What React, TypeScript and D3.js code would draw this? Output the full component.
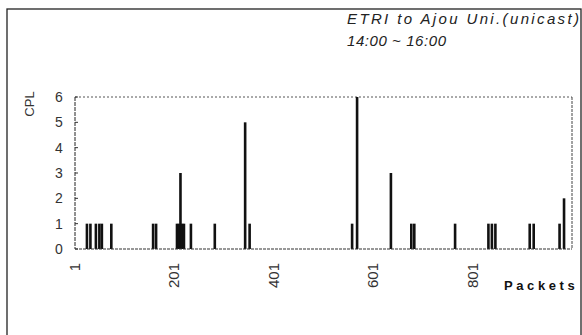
import React, { useEffect, useRef } from 'react';
import * as d3 from 'd3';

// packet index and CPL value
const packets = [25, 32, 43, 50, 55, 74, 158, 164, 206, 210, 213, 216, 220, 234, 282, 343, 352, 558, 568, 636, 677, 683, 765, 832, 839, 846, 915, 923, 975, 984];
const cpl = [1, 1, 1, 1, 1, 1, 1, 1, 1, 1, 3, 1, 1, 1, 1, 5, 1, 1, 6, 3, 1, 1, 1, 1, 1, 1, 1, 1, 1, 2];
const xTicks = [1, 201, 401, 601, 801];
const yTicks = [0, 1, 2, 3, 4, 5, 6];
const titleLines = ['ETRI to Ajou Uni.(unicast)', '14:00 ~ 16:00'];

const W = 582;
const H = 335;

const App: React.FC = () => {
    const svgRef = useRef<SVGSVGElement | null>(null);

    useEffect(() => {
        const svg = d3.select(svgRef.current);
        svg.selectAll('*').remove();

        const x = d3.scaleLinear().domain([1, 1000]).range([75, 572]);
        const y = d3.scaleLinear().domain([0, 6]).range([249, 97]);
        const font = 'Liberation Sans, Arial, sans-serif';

        // outer frame
        svg.append('rect')
            .attr('x', 7).attr('y', 9)
            .attr('width', 574).attr('height', 340)
            .attr('fill', 'none')
            .attr('stroke', '#222')
            .attr('stroke-width', 1.3);

        // title
        svg.append('text')
            .attr('x', 347).attr('y', 24)
            .attr('font-family', font).attr('font-style', 'italic')
            .attr('font-size', 15).attr('fill', '#222')
            .attr('textLength', 232).attr('lengthAdjust', 'spacing')
            .text(titleLines[0]);
        svg.append('text')
            .attr('x', 347).attr('y', 46)
            .attr('font-family', font).attr('font-style', 'italic')
            .attr('font-size', 15).attr('fill', '#222')
            .attr('textLength', 99).attr('lengthAdjust', 'spacing')
            .text(titleLines[1]);

        // plot frame (dotted like the scan)
        const [x0, x1] = x.range();
        svg.append('line').attr('x1', x0).attr('x2', x1).attr('y1', y(6)).attr('y2', y(6))
            .attr('stroke', '#555').attr('stroke-dasharray', '2,2');
        svg.append('line').attr('x1', x1).attr('x2', x1).attr('y1', y(6)).attr('y2', y(0))
            .attr('stroke', '#444').attr('stroke-dasharray', '3,1');
        svg.append('line').attr('x1', x0).attr('x2', x0).attr('y1', y(6)).attr('y2', y(0))
            .attr('stroke', '#222').attr('stroke-dasharray', '4,1');

        // y ticks + labels
        const yAxis = svg.append('g');
        yTicks.forEach(t => {
            yAxis.append('line')
                .attr('x1', x0).attr('x2', x0 + 3)
                .attr('y1', y(t)).attr('y2', y(t))
                .attr('stroke', '#333');
            yAxis.append('text')
                .attr('x', 59).attr('y', y(t))
                .attr('dy', '0.36em')
                .attr('text-anchor', 'middle')
                .attr('font-family', font).attr('font-size', 14)
                .attr('fill', '#333')
                .text(t);
        });
        svg.append('text')
            .attr('transform', 'translate(34,104) rotate(-90)')
            .attr('text-anchor', 'middle')
            .attr('font-family', font).attr('font-size', 13)
            .attr('fill', '#333')
            .text('CPL');

        // x tick labels, rotated
        xTicks.forEach(t => {
            svg.append('text')
                .attr('transform', `translate(${x(t) + 5},263) rotate(-90)`)
                .attr('text-anchor', 'end')
                .attr('font-family', font).attr('font-size', 15)
                .attr('fill', '#333')
                .text(t);
        });
        svg.append('text')
            .attr('x', 504).attr('y', 290)
            .attr('font-family', font).attr('font-size', 13)
            .attr('font-weight', 'bold')
            .attr('letter-spacing', 3.6)
            .attr('fill', '#111')
            .text('Packets');

        // bars
        const bw = 2.6;
        svg.append('g')
            .selectAll('rect')
            .data(packets.map((p, i) => ({ p, v: cpl[i] })))
            .join('rect')
            .attr('x', d => x(d.p) - bw / 2)
            .attr('y', d => y(d.v))
            .attr('width', bw)
            .attr('height', d => y(0) - y(d.v))
            .attr('fill', '#111');

        // baseline
        svg.append('line').attr('x1', x0).attr('x2', x1).attr('y1', y(0)).attr('y2', y(0))
            .attr('stroke', '#333').attr('stroke-width', 1.2).attr('stroke-dasharray', '3,1');
    }, []);

    return (
        <div style={{ position: 'absolute', left: 0, top: 0 }}>
            <svg ref={svgRef} width={W} height={H} style={{ display: 'block', background: '#fff' }} />
        </div>
    );
};

export default App;
